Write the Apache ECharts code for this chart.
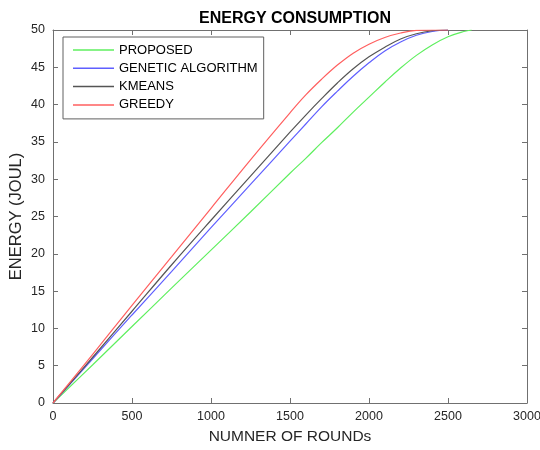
<!DOCTYPE html>
<html><head><meta charset="utf-8">
<script src="https://cdn.jsdelivr.net/npm/echarts@6/dist/echarts.min.js"></script>
<style>html,body{margin:0;padding:0;background:#fff}#c{width:540px;height:450px}</style>
</head><body><div id="c"></div>
<script>
var rounds = [0, 250, 500, 750, 1000, 1250, 1500, 1600, 1700, 1800, 1900, 2000, 2100, 2200, 2300, 2400, 2500, 2600, 2650];
var proposed = [0, 5.1, 10.25, 15.4, 20.5, 25.6, 30.8, 32.8, 34.9, 36.9, 39.0, 41.0, 43.0, 44.9, 46.6, 48.0, 49.1, 49.8, 50];
var genetic  = [0, 5.9, 11.8, 17.6, 23.5, 29.3, 35.1, 37.4, 39.7, 41.8, 43.8, 45.6, 47.2, 48.4, 49.3, 49.8, 50, null, null];
var kmeans   = [0, 6.1, 12.3, 18.5, 24.5, 30.4, 36.3, 38.6, 40.8, 42.9, 44.8, 46.4, 47.7, 48.8, 49.5, 49.9, 50, null, null];
var greedy   = [0, 6.5, 13.1, 19.6, 26.1, 32.6, 38.9, 41.3, 43.4, 45.3, 46.9, 48.1, 49.0, 49.6, 49.95, 50, 50, null, null];
var seriesNames = ['PROPOSED', 'GENETIC ALGORITHM', 'KMEANS', 'GREEDY'];
var xTicks = [0, 500, 1000, 1500, 2000, 2500, 3000];
var yTicks = [0, 5, 10, 15, 20, 25, 30, 35, 40, 45, 50];

function pairs(vals) {
  var out = [];
  for (var i = 0; i < rounds.length; i++) if (vals[i] !== null) out.push([rounds[i], vals[i]]);
  return out;
}
var colors = ['#5fef5f', '#5f5fff', '#555555', '#ff5f5f'];
var datas = [proposed, genetic, kmeans, greedy];
var font = 'Liberation Sans, Arial, sans-serif';
var txt = '#262626';
var axisColor = '#707070';

var chart = echarts.init(document.getElementById('c'), null, {renderer: 'canvas'});
function axisCommon() {
  return {
    axisLine: {show: true, onZero: false, lineStyle: {color: axisColor, width: 1}},
    axisTick: {show: true, inside: true, length: 5, lineStyle: {color: axisColor}},
    splitLine: {show: false}
  };
}
function plain(v) { return String(v); }
chart.setOption({
  animation: false,
  title: {
    text: 'ENERGY CONSUMPTION', left: 290, textAlign: 'center', top: 6,
    textStyle: {fontFamily: font, fontSize: 16, fontWeight: 'bold', color: '#000'}
  },
  grid: {left: 53, right: 13, top: 30, bottom: 47, show: false, containLabel: false, outerBoundsMode: 'none'},
  legend: {
    orient: 'vertical', left: 63, top: 37,
    data: seriesNames.map(function (n) { return {name: n, icon: 'rect'}; }),
    itemWidth: 41, itemHeight: 1.5, itemGap: 4.3,
    padding: [6, 6, 7, 10],
    borderColor: '#606060', borderWidth: 1, backgroundColor: '#fff',
    textStyle: {fontFamily: font, fontSize: 13, color: '#000', lineHeight: 14}
  },
  xAxis: [
    Object.assign({
      type: 'value', min: xTicks[0], max: xTicks[xTicks.length - 1], interval: 500,
      name: 'NUMNER OF ROUNDs', nameLocation: 'middle', nameGap: 26, nameMoveOverlap: false,
      nameTextStyle: {fontFamily: font, fontSize: 15.5, color: txt},
      axisLabel: {fontFamily: font, fontSize: 12.5, color: txt, margin: 7, formatter: plain}
    }, axisCommon()),
    Object.assign({
      type: 'value', position: 'top', min: xTicks[0], max: xTicks[xTicks.length - 1], interval: 500,
      axisLabel: {show: false}
    }, axisCommon())
  ],
  yAxis: [
    Object.assign({
      type: 'value', min: yTicks[0], max: yTicks[yTicks.length - 1], interval: 5,
      name: 'ENERGY (JOUL)', nameLocation: 'middle', nameGap: 28, nameMoveOverlap: false,
      nameTextStyle: {fontFamily: font, fontSize: 16.5, color: txt},
      axisLabel: {fontFamily: font, fontSize: 12.5, color: txt, margin: 8, formatter: plain}
    }, axisCommon()),
    Object.assign({
      type: 'value', position: 'right', min: yTicks[0], max: yTicks[yTicks.length - 1], interval: 5,
      axisLabel: {show: false}
    }, axisCommon())
  ],
  series: seriesNames.map(function (n, i) {
    return {
      name: n, type: 'line', data: pairs(datas[i]), symbol: 'none', smooth: 0.4,
      lineStyle: {color: colors[i], width: 1.2}, itemStyle: {color: colors[i]}
    };
  })
});
</script></body></html>
